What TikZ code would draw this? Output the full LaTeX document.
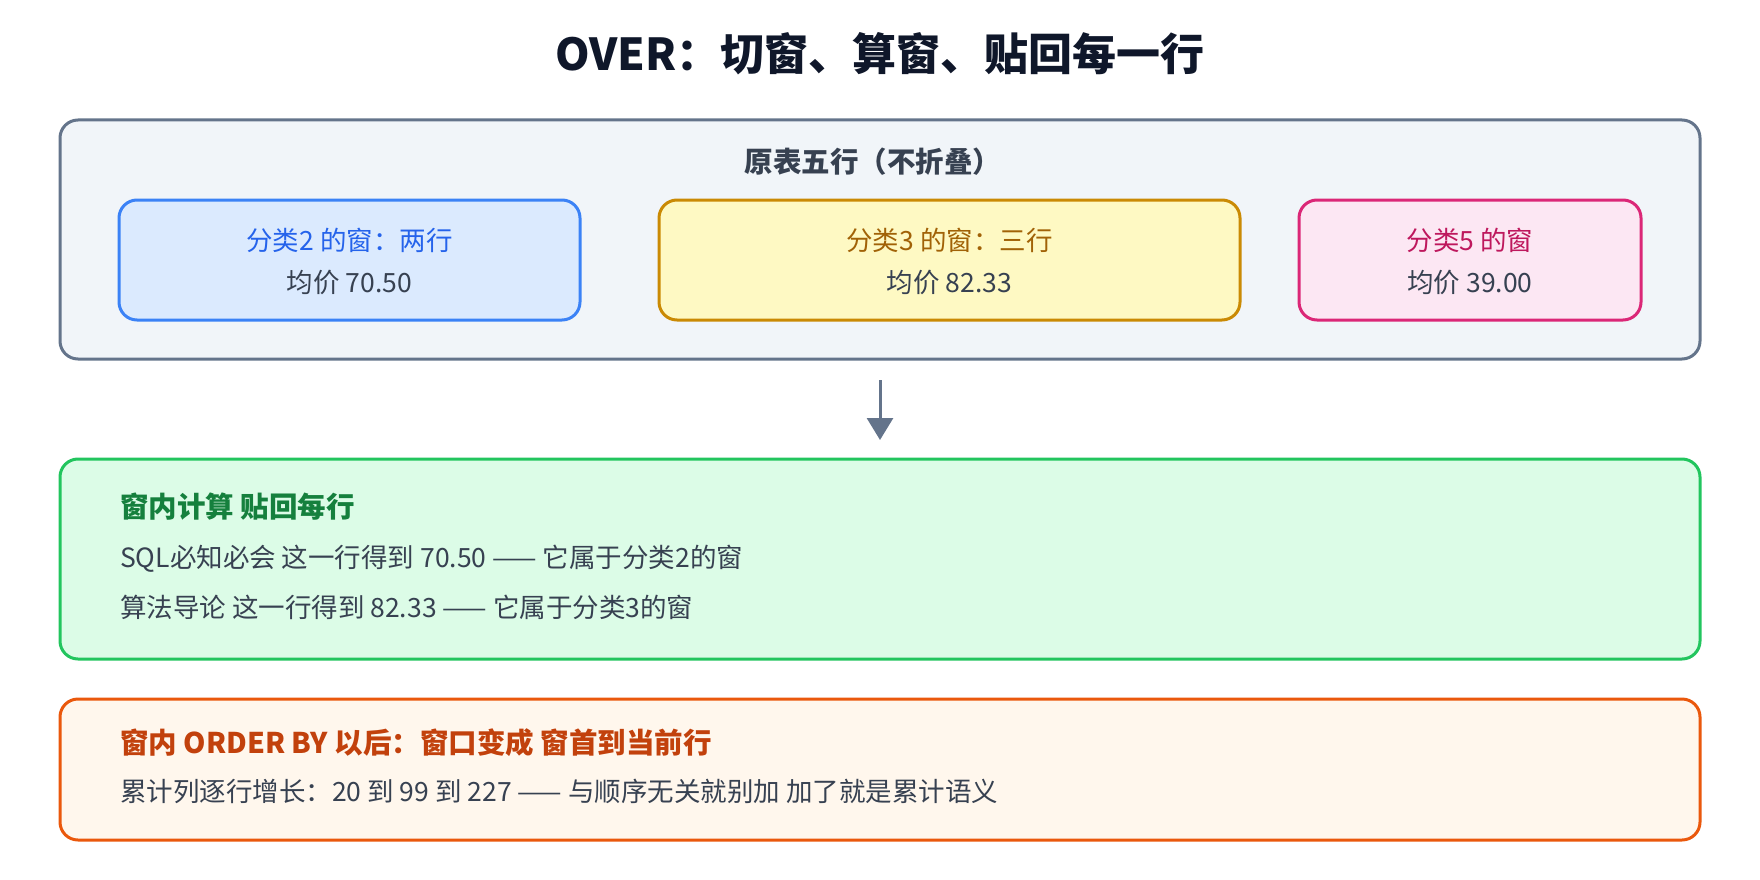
\documentclass[tikz,border=0pt]{standalone}
\usepackage{fontspec}
\setmainfont{Noto Sans CJK SC}
\usetikzlibrary{arrows.meta}
\definecolor{slate}{HTML}{64748B}\definecolor{slatef}{HTML}{F1F5F9}
\definecolor{bl}{HTML}{3B82F6}\definecolor{blf}{HTML}{DBEAFE}\definecolor{blt}{HTML}{2563EB}
\definecolor{ye}{HTML}{CA8A04}\definecolor{yef}{HTML}{FEF9C3}\definecolor{yet}{HTML}{A16207}
\definecolor{pk}{HTML}{DB2777}\definecolor{pkf}{HTML}{FCE7F3}\definecolor{pkt}{HTML}{BE185D}
\definecolor{gr}{HTML}{22C55E}\definecolor{grf}{HTML}{DCFCE7}\definecolor{grt}{HTML}{15803D}
\definecolor{or}{HTML}{EA580C}\definecolor{orf}{HTML}{FFF7ED}\definecolor{ort}{HTML}{C2410C}
\definecolor{body}{HTML}{374151}\definecolor{ttl}{HTML}{0F172A}
\begin{document}
\begin{tikzpicture}[x=1pt,y=-1pt,
  box/.style={line width=3pt,rounded corners=18pt},
  txt/.style={font=\fontsize{26.5}{30}\selectfont,text=body,inner sep=0pt},
  btxt/.style={font=\fontsize{28.5}{32}\selectfont\bfseries,inner sep=0pt}]
\useasboundingbox (0,0) rectangle (1760,880);
\node[font=\fontsize{44}{50}\selectfont\bfseries,text=ttl] (title) at (880,54) {OVER：切窗、算窗、贴回每一行};
\draw[box,draw=slate,fill=slatef] (60,120) rectangle (1700,359);
\node[btxt,text=body] (sub) at (873,162) {原表五行（不折叠）};
\draw[box,draw=bl,fill=blf] (119,200) rectangle (580,320);
\node[txt,text=blt] (b1) at (349.5,240) {分类2 的窗：两行};
\node[txt] (b2) at (349.5,283) {均价 70.50};
\draw[box,draw=ye,fill=yef] (659,200) rectangle (1240,320);
\node[txt,text=yet] (y1) at (949.5,240) {分类3 的窗：三行};
\node[txt] (y2) at (949.5,283) {均价 82.33};
\draw[box,draw=pk,fill=pkf] (1299,200) rectangle (1641,320);
\node[txt,text=pkt] (p1) at (1470,240) {分类5 的窗};
\node[txt] (p2) at (1470,283) {均价 39.00};
\coordinate (a1) at (880,380); \coordinate (a2) at (880,440);
\draw[line width=3pt,draw=slate,-{Triangle[length=22pt,width=26pt]}] (a1) -- (a2);
\draw[box,draw=gr,fill=grf] (60,459) rectangle (1700,659);
\node[btxt,text=grt,anchor=west] (g0) at (120,507) {窗内计算 贴回每行};
\node[txt,anchor=west] (g1) at (120,559) {SQL必知必会 这一行得到 70.50 —— 它属于分类2的窗};
\node[txt,anchor=west] (g2) at (120,607) {算法导论 这一行得到 82.33 —— 它属于分类3的窗};
\draw[box,draw=or,fill=orf] (60,699) rectangle (1700,840);
\node[btxt,text=ort,anchor=west] (o0) at (120,743) {窗内 ORDER BY 以后：窗口变成 窗首到当前行};
\node[txt,anchor=west] (o1) at (120,791) {累计列逐行增长：20 到 99 到 227 —— 与顺序无关就别加 加了就是累计语义};
\end{tikzpicture}
\end{document}
